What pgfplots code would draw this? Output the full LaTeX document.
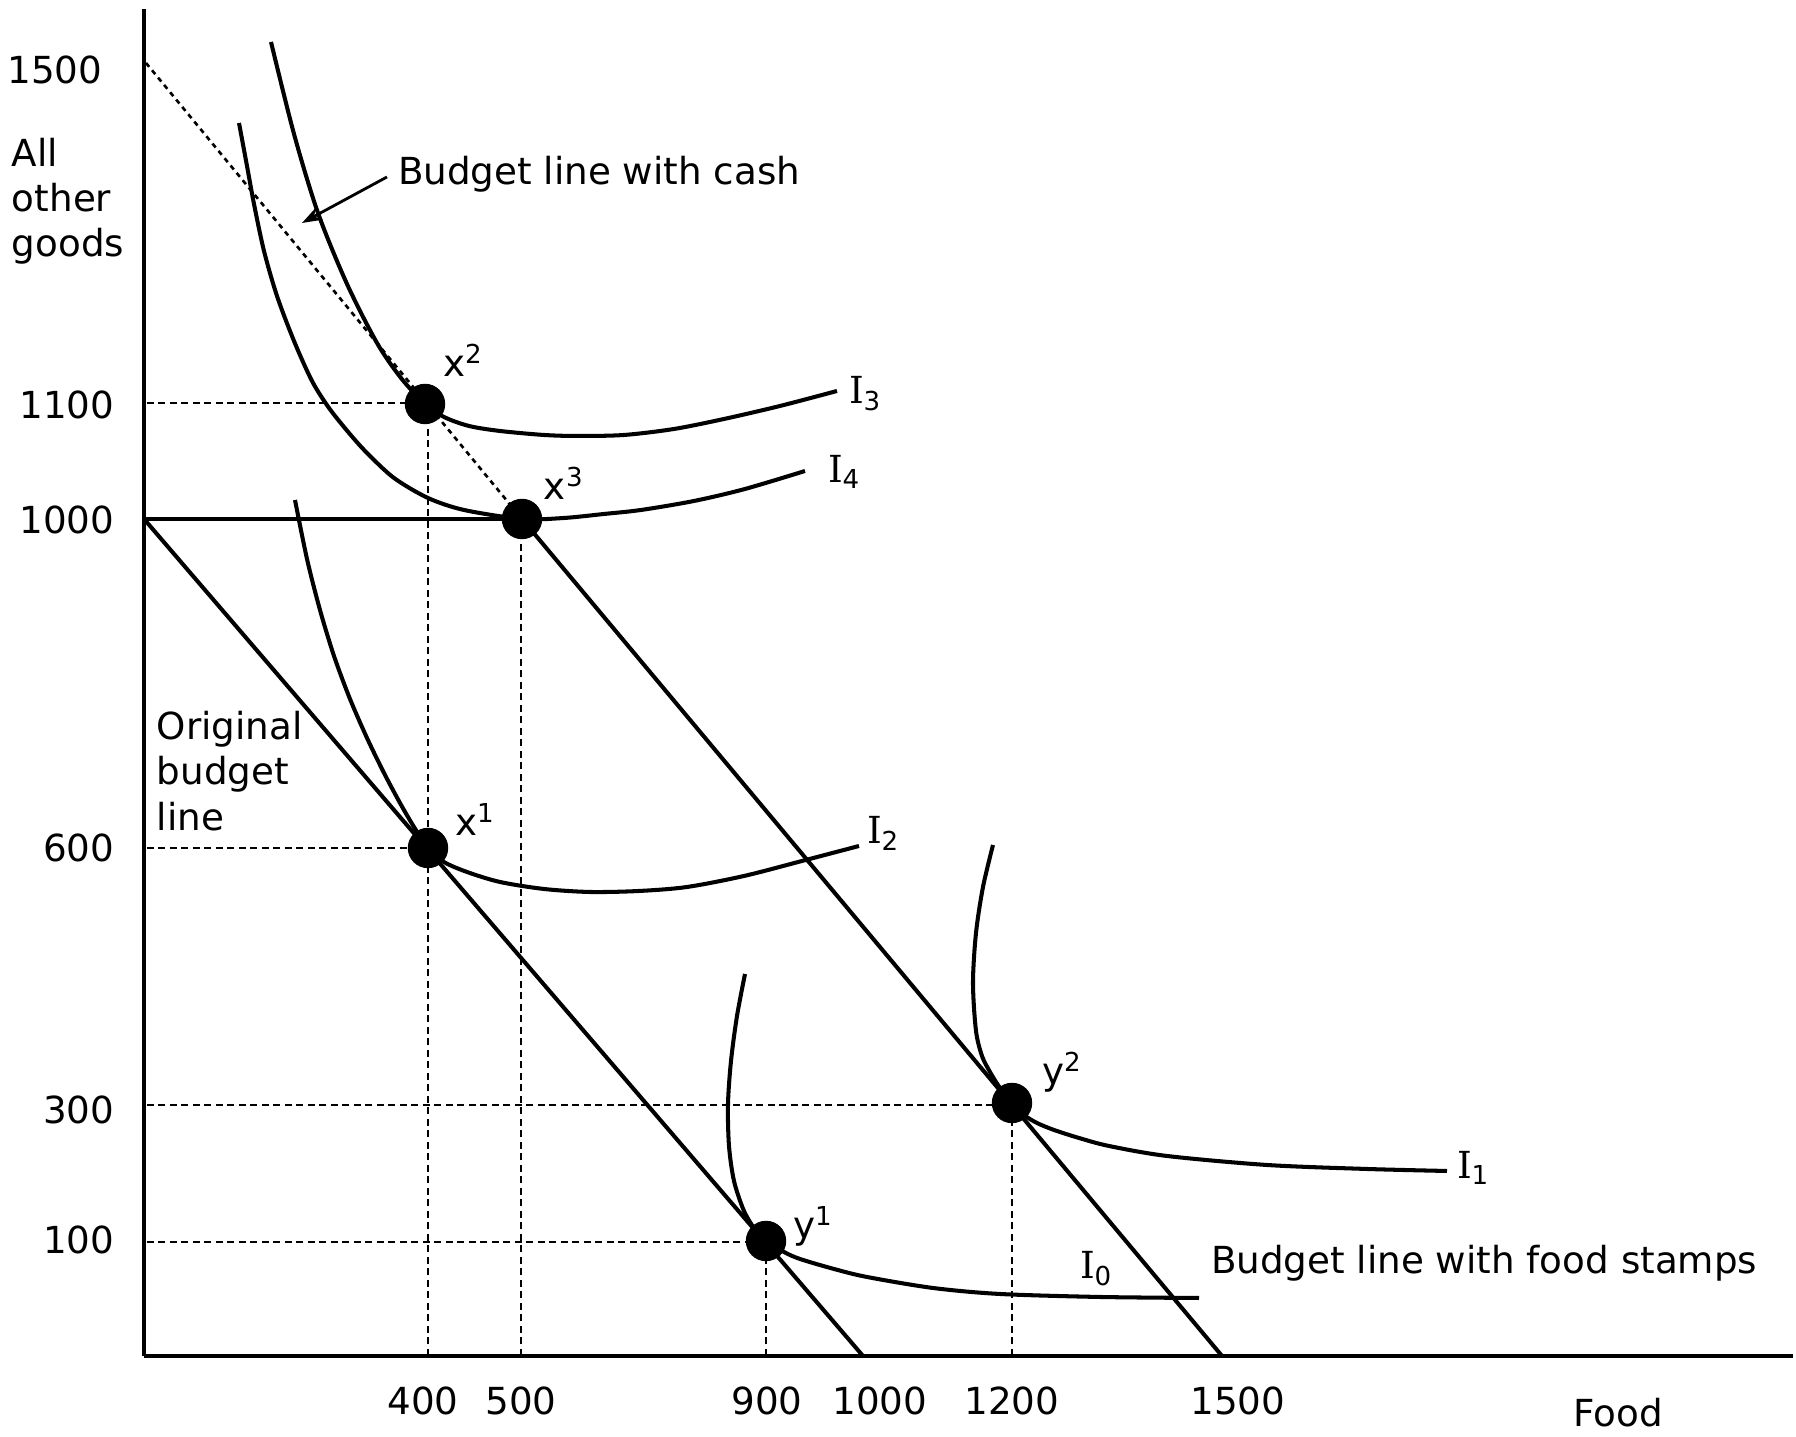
\documentclass[border=0pt]{standalone}
\usepackage{fontspec}
\setmainfont{DejaVu Sans}
\newfontfamily\serifI{DejaVu Serif}
\usepackage{pgfplots}
\pgfplotsset{compat=1.18}
\usetikzlibrary{arrows.meta}
\newcommand{\I}[1]{{\serifI I}\textsubscript{#1}}
\newcommand{\bundle}[2]{#1\textsuperscript{#2}}

\begin{document}
\fontsize{10.6}{12.7}\selectfont
\begin{tikzpicture}[lbl/.style={inner sep=0pt, outer sep=0pt}]
\begin{axis}[
  x=0.1mm, y=0.1mm,
  xmin=0, xmax=1649, ymin=0, ymax=1347,
  axis lines=left,
  axis line style={-, line width=1.2pt},
  clip=false,
  xtick={279,377,623,736,868,1094},
  xticklabels={400,500,900,1000,1200,1500},
  ytick={116,246,508,836,951},
  yticklabels={100,300,600,1000,1100},
  extra y ticks={1286},
  extra y tick labels={1500},
  major tick length=0pt,
  xticklabel style={anchor=north, inner sep=0pt, yshift=-3mm},
  yticklabel style={anchor=east, inner sep=0pt, xshift=-2.9mm},
  extra y tick style={yticklabel style={xshift=-1.2mm}},
  line/.style={black, line width=1.15pt},
  curve/.style={black, line width=1.15pt, smooth},
  guide/.style={black, line width=0.8pt, dash pattern=on 0.7mm off 0.45mm},
]
% budget lines
\addplot[line] coordinates {(0,837) (719,0)};
\addplot[line] coordinates {(0,837) (378,837)};
\addplot[line] coordinates {(378,837) (1078,0)};
\addplot[black, line width=0.75pt, dash pattern=on 0.5mm off 0.45mm] coordinates {(2,1293) (378,837)};

% guide lines
\addplot[guide] coordinates {(3,953) (281,953)};
\addplot[guide] coordinates {(284,0) (284,952)};
\addplot[guide] coordinates {(377,0) (377,837)};
\addplot[guide] coordinates {(3,508) (284,508)};
\addplot[guide] coordinates {(3,251) (868,251)};
\addplot[guide] coordinates {(3,114) (622,114)};
\addplot[guide] coordinates {(622,0) (622,115)};
\addplot[guide] coordinates {(868,0) (868,253)};

% indifference curves
% I3
\addplot[curve] coordinates {(127,1314) (150,1222) (174,1143) (203,1072) (233,1013) (257,978) (281,952) (300,939) (325,930) (356,925) (400,921) (434,920) (480,921) (530,927) (580,937) (636,950) (693,965)};
% I4
\addplot[curve] coordinates {(95,1233) (103,1190) (110,1152) (120,1105) (133,1060) (150,1015) (168,975) (185,948) (205,923) (223,903) (250,878) (284,858) (320,846) (378,837) (420,838) (460,842) (497,846) (550,855) (601,867) (661,885)};
% I2
\addplot[curve] coordinates {(151,856) (163,797) (176,746) (190,700) (206,657) (223,618) (240,583) (256,553) (270,529) (284,508) (300,494) (323,484) (356,474) (400,467) (446,464) (495,465) (543,469) (600,480) (658,495) (715,510)};
% I0
\addplot[curve] coordinates {(601,382) (593,340) (587,295) (584,252) (585,210) (590,175) (600,145) (612,125) (622,115) (640,104) (656,97) (690,87) (723,79) (789,68) (856,62) (956,59) (1055,58)};
% I1
\addplot[curve] coordinates {(849,511) (839,469) (832,423) (829,373) (832,325) (838,300) (846,284) (856,268) (868,253) (880,241) (893,233) (910,226) (935,218) (965,210) (1023,200) (1123,191) (1223,187) (1303,185)};

% bundles
\addplot[black, only marks, mark=*, mark size=1.95mm] coordinates {(281,952) (378,837) (284,508) (622,115) (868,253)};

% labels
\node[lbl, anchor=base west] at (axis cs:-132,1189) {All};
\node[lbl, anchor=base west] at (axis cs:-132,1144) {other};
\node[lbl, anchor=base west] at (axis cs:-132,1099) {goods};
\node[lbl, anchor=base west] at (axis cs:13,616) {Original};
\node[lbl, anchor=base west] at (axis cs:13,571) {budget};
\node[lbl, anchor=base west] at (axis cs:13,525) {line};
\node[lbl, anchor=base] at (axis cs:1474,-71) {Food};
\node[lbl, anchor=base west] at (axis cs:254,1171) {Budget line with cash};
\node[lbl, anchor=base west] at (axis cs:1067,82) {Budget line with food stamps};
\draw[line width=0.8pt, -{Stealth[length=2mm, width=1.4mm]}] (axis cs:243,1179) -- (axis cs:158,1133);

\node[lbl, anchor=base west] at (axis cs:705,952) {\I{3}};
\node[lbl, anchor=base west] at (axis cs:684,873) {\I{4}};
\node[lbl, anchor=base west] at (axis cs:723,512) {\I{2}};
\node[lbl, anchor=base west] at (axis cs:1313,177) {\I{1}};
\node[lbl, anchor=base west] at (axis cs:936,77) {\I{0}};
\node[lbl, anchor=base west] at (axis cs:299,979) {\bundle{x}{2}};
\node[lbl, anchor=base west] at (axis cs:400,856) {\bundle{x}{3}};
\node[lbl, anchor=base west] at (axis cs:311,520) {\bundle{x}{1}};
\node[lbl, anchor=base west] at (axis cs:649,117) {\bundle{y}{1}};
\node[lbl, anchor=base west] at (axis cs:898,271) {\bundle{y}{2}};

\path (axis cs:-144,1356) rectangle (axis cs:1652,-81);
\end{axis}
\end{tikzpicture}
\end{document}
